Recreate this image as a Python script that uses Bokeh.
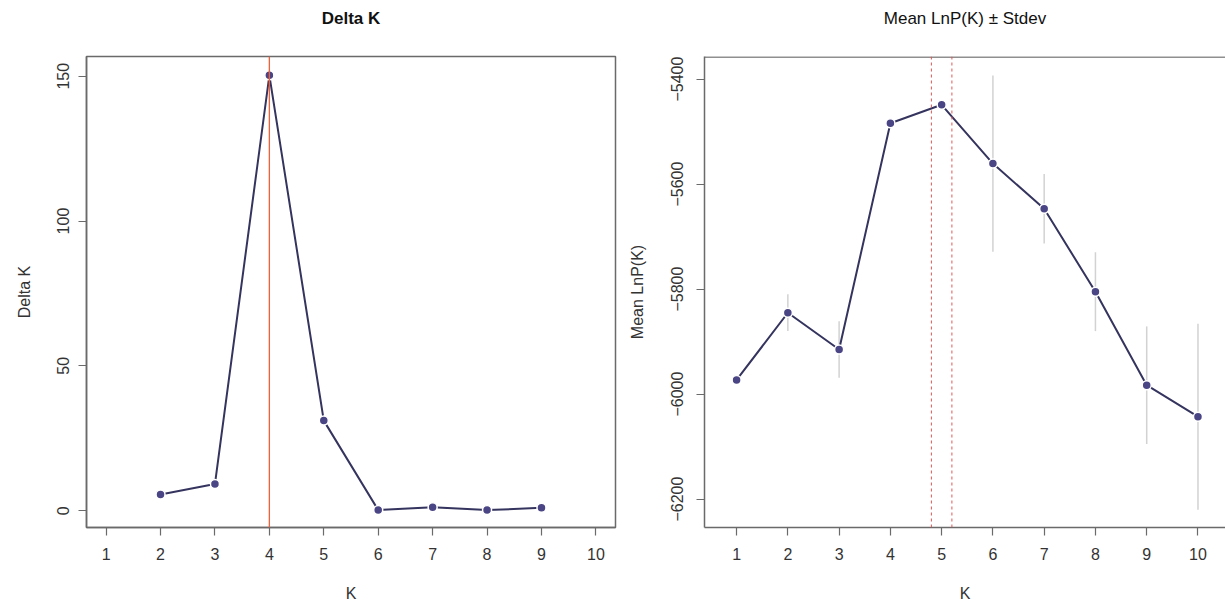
from bokeh.plotting import figure
from bokeh.layouts import row
from bokeh.models import FixedTicker, Span, ColumnDataSource
from bokeh.embed import file_html
from bokeh.resources import INLINE

# ---- data ----
k_delta = [2, 3, 4, 5, 6, 7, 8, 9]
delta_k = [5.6, 9.2, 150.3, 31.1, 0.2, 1.2, 0.2, 1.0]

k_all = [1, 2, 3, 4, 5, 6, 7, 8, 9, 10]
mean_lnp = [-5973, -5845, -5915, -5484, -5449, -5561, -5647, -5805, -5983, -6043]
sd_lnp = [5, 35, 54, 8, 6, 168, 66, 75, 112, 177]

x_ticks = [1, 2, 3, 4, 5, 6, 7, 8, 9, 10]
left_y_ticks = [0, 50, 100, 150]
right_y_ticks = [-6200, -6000, -5800, -5600, -5400]

best_k_delta = 4
best_k_lnp_band = [4.8, 5.2]

FONT = "Liberation Sans"
AX = "#6a6a6a"
TXT = "#333333"
LINE = "#34345f"
PT = "#4a4584"


def style(p, yticks, minus=False):
    p.xaxis.ticker = FixedTicker(ticks=x_ticks)
    p.yaxis.ticker = FixedTicker(ticks=yticks)
    if minus:
        p.yaxis.major_label_overrides = {t: "\u2212" + str(abs(t)) for t in yticks}
    p.xgrid.visible = False
    p.ygrid.visible = False
    for ax in (p.xaxis[0], p.yaxis[0]):
        ax.axis_line_color = AX
        ax.axis_line_width = 1.5
        ax.major_tick_line_color = AX
        ax.major_tick_line_width = 1.2
        ax.major_tick_out = 8
        ax.major_tick_in = 0
        ax.minor_tick_line_color = None
        ax.major_label_text_font = FONT
        ax.major_label_text_font_size = "16px"
        ax.major_label_text_color = TXT
        ax.axis_label_text_font = FONT
        ax.axis_label_text_font_size = "16px"
        ax.axis_label_text_font_style = "normal"
        ax.axis_label_text_color = TXT
    p.yaxis.major_label_orientation = "vertical"
    p.xaxis.major_label_standoff = 12
    p.xaxis.axis_label_standoff = 22
    p.title.text_font = FONT
    p.title.text_font_size = "17px"
    p.title.text_color = "#111111"
    p.title.align = "center"
    p.title.text_line_height = 1.25
    p.background_fill_color = "white"
    p.border_fill_color = "white"


# ---- left: Delta K ----
p1 = figure(width=625, height=604, output_backend="svg", toolbar_location=None,
            x_range=(0.64, 10.36), y_range=(-5.8, 156.8),
            title="Delta K\n\u00a0", x_axis_label="K", y_axis_label="Delta K",
            min_border_left=86, min_border_right=10, min_border_top=54,
            min_border_bottom=77)
style(p1, left_y_ticks)
p1.title.text_font_style = "bold"
p1.yaxis.major_label_standoff = 9
p1.yaxis.axis_label_standoff = 22
p1.outline_line_color = AX
p1.outline_line_width = 1.5
p1.add_layout(Span(location=best_k_delta, dimension="height",
                   line_color="#f2603a", line_width=1.3))
p1.line(k_delta, delta_k, line_color=LINE, line_width=2)
p1.scatter(k_delta, delta_k, size=9, fill_color=PT, line_color="white", line_width=1.5)

# ---- right: Mean LnP(K) ----
p2 = figure(width=600, height=604, output_backend="svg", toolbar_location=None,
            x_range=(0.374, 10.537), y_range=(-6254, -5357),
            title="Mean LnP(K) \u00b1 Stdev\n\u00a0", x_axis_label="K", y_axis_label="Mean LnP(K)",
            min_border_left=76, min_border_right=0, min_border_top=56,
            min_border_bottom=75)
style(p2, right_y_ticks, minus=True)
p2.title.text_font_style = "normal"
p2.yaxis.major_label_standoff = 13
p2.yaxis.axis_label_standoff = 23
p2.outline_line_color = None
p2.add_layout(Span(location=-5358, dimension="width", line_color=AX, line_width=1.5))
for xv in best_k_lnp_band:
    p2.add_layout(Span(location=xv, dimension="height", line_color="#e05858",
                       line_width=1, line_dash="3 3"))
src = ColumnDataSource(dict(
    k=k_all, m=mean_lnp,
    lo=[m - s for m, s in zip(mean_lnp, sd_lnp)],
    hi=[m + s for m, s in zip(mean_lnp, sd_lnp)],
))
p2.segment(x0="k", y0="lo", x1="k", y1="hi", source=src, line_color="#d2d2d2", line_width=1.5)
p2.line("k", "m", source=src, line_color=LINE, line_width=2)
p2.scatter("k", "m", source=src, size=9, fill_color=PT, line_color="white", line_width=1.5)

layout = row(p1, p2)
open("out.html", "w").write(file_html(layout, INLINE))
